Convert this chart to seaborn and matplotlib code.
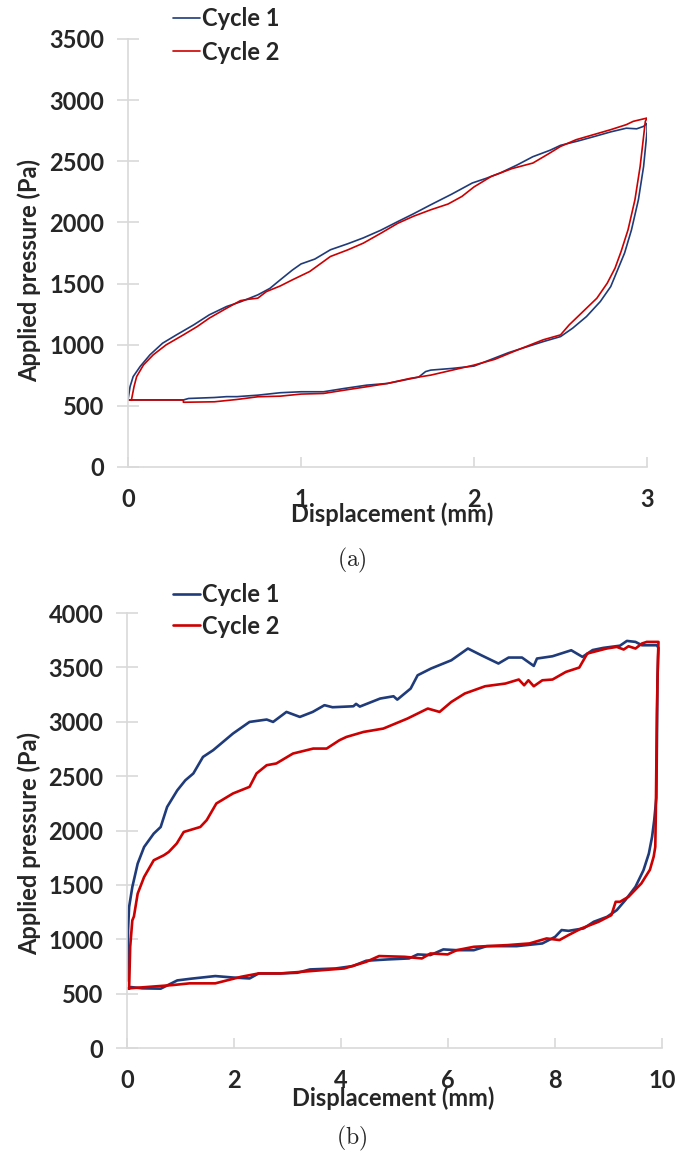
import seaborn as sns
import matplotlib.pyplot as plt

sns.set_theme(style="white")
plt.rcParams["font.family"] = ["Lato", "DejaVu Sans"]
plt.rcParams["font.weight"] = "bold"
plt.rcParams["mathtext.fontset"] = "cm"

# panel (a): 3 mm cycles
a1_x = [0.0, 0.012, 0.03, 0.07, 0.127, 0.2, 0.28, 0.38, 0.47, 0.57, 0.65, 0.75, 0.82, 0.88, 0.95,
        1.0, 1.08, 1.17, 1.27, 1.36, 1.46, 1.56, 1.65, 1.75, 1.87, 1.99, 2.07, 2.15, 2.25, 2.34,
        2.44, 2.5, 2.6, 2.69, 2.79, 2.88, 2.94, 2.98, 3.0,
        3.0, 2.98, 2.95, 2.91, 2.87, 2.83, 2.79, 2.73, 2.65, 2.57, 2.5, 2.4, 2.3, 2.2, 2.1, 2.0,
        1.875, 1.75, 1.72, 1.68, 1.5, 1.38, 1.25, 1.13, 1.0, 0.88, 0.75, 0.63, 0.57, 0.5, 0.35,
        0.32, 0.0]
a1_p = [548, 657, 739, 821, 917, 1012, 1080, 1162, 1244, 1312, 1350, 1407, 1460, 1530, 1610,
        1660, 1700, 1776, 1825, 1873, 1935, 2007, 2070, 2144, 2230, 2322, 2360, 2403, 2470, 2537,
        2590, 2630, 2665, 2700, 2740, 2770, 2765, 2785, 2810,
        2744, 2457, 2185, 1939, 1749, 1612, 1475, 1353, 1230, 1135, 1066, 1025, 980, 935, 880, 825,
        806, 792, 780, 735, 683, 669, 642, 615, 615, 607, 587, 575, 575, 568, 560,
        548, 548]

a2_x = [0.0, 0.02, 0.035, 0.05, 0.09, 0.146, 0.22, 0.32, 0.40, 0.47, 0.57, 0.65, 0.7, 0.75, 0.8,
        0.88, 0.95, 1.05, 1.17, 1.27, 1.36, 1.46, 1.56, 1.65, 1.75, 1.85, 1.93, 2.0, 2.1, 2.22,
        2.34, 2.43, 2.5, 2.59, 2.69, 2.79, 2.88, 2.92, 3.0,
        2.99, 2.96, 2.93, 2.89, 2.85, 2.815, 2.77, 2.71, 2.63, 2.55, 2.5, 2.4, 2.25, 2.12, 2.0,
        1.875, 1.75, 1.63, 1.5, 1.38, 1.25, 1.13, 1.0, 0.88, 0.75, 0.63, 0.5, 0.32, 0.32, 0.0]
a2_p = [548, 548, 657, 739, 835, 917, 998, 1080, 1148, 1217, 1298, 1360, 1372, 1380, 1434,
        1480, 1530, 1598, 1721, 1775, 1830, 1910, 1993, 2050, 2103, 2150, 2212, 2290, 2376, 2440,
        2485, 2560, 2621, 2676, 2717, 2758, 2799, 2826, 2853,
        2826, 2457, 2185, 1939, 1762, 1626, 1503, 1380, 1271, 1162, 1080, 1040, 956, 880, 833,
        792, 751, 724, 683, 656, 628, 601, 596, 579, 574, 552, 533, 529, 548, 548]

# panel (b): 10 mm cycles
b1_x = [0.01, 0.02, 0.04, 0.1, 0.2, 0.32, 0.5, 0.63, 0.75, 0.94, 1.09, 1.24, 1.42, 1.61, 1.98,
        2.29, 2.61, 2.73, 2.98, 3.23, 3.47, 3.69, 3.84, 4.23, 4.28, 4.35, 4.73, 4.98, 5.05, 5.30,
        5.43, 5.68, 6.06, 6.37, 6.62, 6.94, 7.13, 7.38, 7.60, 7.66, 7.95, 8.30, 8.51, 8.7, 8.9,
        9.21, 9.34, 9.5, 9.62, 9.9, 9.93,
        9.91, 9.90, 9.89, 9.85, 9.81, 9.75, 9.65, 9.5, 9.31, 9.15, 8.97, 8.72, 8.53, 8.25, 8.12,
        8.0, 7.76, 7.28, 6.72, 6.48, 6.16, 5.91, 5.67, 5.43, 5.27, 4.87, 4.47, 4.22, 3.90, 3.42,
        3.18, 2.86, 2.46, 2.29, 1.97, 1.65, 1.2, 0.94, 0.63, 0.28, 0.07]
b1_p = [622, 1083, 1297, 1481, 1696, 1849, 1972, 2033, 2217, 2370, 2462, 2525, 2677, 2739, 2892,
        2999, 3021, 2999, 3091, 3045, 3091, 3153, 3134, 3143, 3165, 3140, 3214, 3235, 3204, 3306,
        3428, 3490, 3566, 3674, 3612, 3536, 3591, 3591, 3514, 3582, 3603, 3658, 3597, 3660, 3680,
        3700, 3744, 3735, 3704, 3704, 3680,
        3382, 2770, 2300, 2096, 1942, 1789, 1636, 1483, 1360, 1268, 1207, 1161, 1100, 1078, 1085,
        1023, 962, 937, 937, 900, 900, 907, 855, 861, 824, 815, 803, 754, 732, 723,
        692, 686, 686, 640, 649, 662, 638, 622, 546, 549, 561]

b2_x = [0.04, 0.06, 0.1, 0.13, 0.2, 0.32, 0.5, 0.69, 0.78, 0.93, 1.06, 1.37, 1.49, 1.67, 1.98,
        2.29, 2.42, 2.61, 2.79, 3.10, 3.48, 3.73, 3.97, 4.10, 4.42, 4.79, 5.24, 5.62, 5.84, 6.06,
        6.31, 6.69, 7.07, 7.32, 7.42, 7.50, 7.60, 7.76, 7.95, 8.20, 8.45, 8.6, 8.96, 9.15, 9.28,
        9.37, 9.5, 9.62, 9.71, 9.93,
        9.92, 9.90, 9.88, 9.87, 9.84, 9.77, 9.61, 9.37, 9.21, 9.13, 9.05, 8.81, 8.49, 8.25, 8.08,
        7.84, 7.52, 7.12, 6.48, 6.16, 5.99, 5.67, 5.51, 5.19, 4.71, 4.47, 4.06, 3.26, 2.86, 2.46,
        2.13, 1.65, 1.17, 0.85, 0.04, 0.0]
b2_p = [546, 929, 1174, 1210, 1420, 1573, 1727, 1773, 1803, 1881, 1987, 2033, 2096, 2249, 2341,
        2402, 2525, 2601, 2617, 2708, 2754, 2754, 2831, 2861, 2907, 2938, 3030, 3122, 3091, 3183,
        3260, 3327, 3352, 3389, 3336, 3382, 3327, 3382, 3389, 3459, 3499, 3628, 3674, 3689, 3665,
        3695, 3674, 3720, 3735, 3735,
        3600, 3076, 2157, 1850, 1760, 1640, 1514, 1391, 1345, 1345, 1222, 1161, 1100, 1039, 993,
        1008, 962, 947, 931, 900, 861, 870, 824, 839, 846, 793, 732, 701, 686, 686,
        655, 595, 595, 579, 549, 549]

labels = ["Cycle 1", "Cycle 2"]
blue = "#1F3B7A"
red = "#CC0000"
grey = "#D9D9D9"
fs = 17

fig = plt.figure(figsize=(6.75, 11.55), dpi=100)
ax_a = fig.add_axes([0.1896, 0.5957, 0.769, 0.3706])
ax_b = fig.add_axes([0.1881, 0.0926, 0.793, 0.3766])

panels = [
    (ax_a, a1_x, a1_p, a2_x, a2_p, 1.2, (0, 3), (0, 3500), [0, 1, 2, 3],
     range(0, 3501, 500), (0.509, -0.11), (-0.19, 0.458), 0.994, 0.45, "(a)", 0.515),
    (ax_b, b1_x, b1_p, b2_x, b2_p, 1.9, (0, 10), (0, 4000), [0, 2, 4, 6, 8, 10],
     range(0, 4001, 500), (0.497, -0.115), (-0.182, 0.471), 0.4952, 0.36, "(b)", 0.0147),
]

for (ax, x1, p1, x2, p2, lw, xl, yl, xt, yt, xlab, ylab, legy, lsp, cap, capy) in panels:
    sns.lineplot(x=x1, y=p1, sort=False, estimator=None, color=blue, lw=lw, ax=ax,
                 label=labels[0], legend=False)
    sns.lineplot(x=x2, y=p2, sort=False, estimator=None, color=red, lw=lw, ax=ax,
                 label=labels[1], legend=False)
    ax.set_xlim(*xl)
    ax.set_ylim(*yl)
    ax.set_xticks(xt)
    ax.set_yticks(list(yt))
    for s in ["top", "right"]:
        ax.spines[s].set_visible(False)
    for s in ["left", "bottom"]:
        ax.spines[s].set_color(grey)
        ax.spines[s].set_linewidth(1.2)
    ax.tick_params(axis="y", direction="inout", length=16, width=1.2, color=grey,
                   pad=9, labelsize=fs, left=True)
    ax.tick_params(axis="x", direction="in", length=7, width=1.2, color=grey,
                   pad=15, labelsize=fs, bottom=True)
    for t in ax.get_xticklabels() + ax.get_yticklabels():
        t.set_fontweight("bold")
    ax.set_xlabel("Displacement (mm)", fontsize=fs, fontweight="bold")
    ax.xaxis.set_label_coords(*xlab)
    ax.xaxis.label.set_va("center")
    ax.set_ylabel("Applied pressure (Pa)", fontsize=fs, fontweight="bold")
    ax.yaxis.set_label_coords(*ylab)
    ax.yaxis.label.set_va("center")
    ax.grid(False)
    h, l = ax.get_legend_handles_labels()
    fig.legend(h, l, loc="upper left", bbox_to_anchor=(0.256, legy), frameon=False,
               borderpad=0, borderaxespad=0, handlelength=1.15, handletextpad=0.1,
               labelspacing=lsp, prop={"size": fs, "weight": "bold"})
    fig.text(0.521, capy, r"$\mathrm{" + cap + "}$", ha="center", va="center", fontsize=17)

fig.savefig("out.png", dpi=100)
